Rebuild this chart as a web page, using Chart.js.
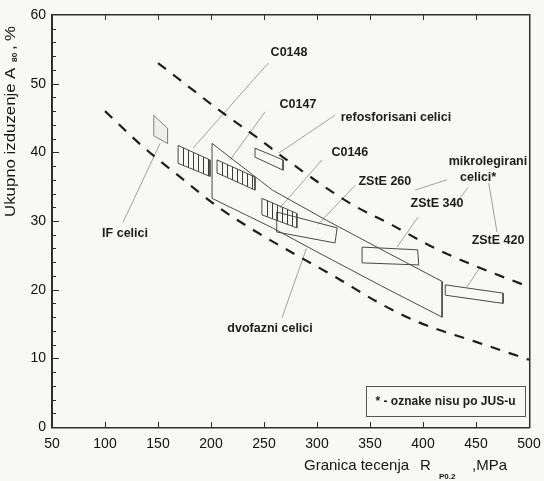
<!DOCTYPE html>
<html><head><meta charset="utf-8">
<script src="https://cdn.jsdelivr.net/npm/chart.js@4"></script>
<style>html,body{margin:0;padding:0;background:#f8f8f6;}#wrap{width:544px;height:481px;position:relative;}</style>
</head><body><div id="wrap"><canvas id="c"></canvas></div>
<script>
// ---- axis ticks ----
const xTickValues = [50,100,150,200,250,300,350,400,450,500];
const yTickValues = [0,10,20,30,40,50,60];

// ---- dashed boundary curves ----
const upperX = [150,171,208,243,275,331,371,409,447,500];
const upperY = [53,50.5,46.1,42.2,38.5,32.6,29.4,26.2,23.6,20.4];
const lowerX = [100,136,171,207,243,281,319,357,395,450,500];
const lowerY = [46,40.8,36.4,32,28.4,25,21.7,18.2,15.3,12.4,9.8];

// ---- dual-phase steels region ----
const dvofazniX = [201,258,309,365,418,418,360,300,258,201];
const dvofazniY = [41.3,34.5,30.1,25.5,21.2,16.0,20.6,25.5,29.0,33.3];

// ---- steel grade boxes (corners) ----
const c0148X = [169,199,199,169];         const c0148Y = [41.0,38.9,36.5,38.4];
const c0147X = [205.7,241.5,241.5,205.7]; const c0147Y = [38.9,36.4,34.5,37.0];
const c0146X = [248,281,281,248];         const c0146Y = [33.3,31.1,29.0,30.9];
const refosX = [241.5,268,268,241.5];     const refosY = [40.6,38.9,37.4,39.3];
const ifX = [146,159,159,146];            const ifY = [45.4,43.5,41.3,42.4];
const z260X = [262,319,317,262];          const z260Y = [31.3,29.0,26.8,28.4];
const z340X = [342.5,395,396,342.5];      const z340Y = [26.2,25.8,23.6,23.9];
const z420X = [421,475.5,475.5,421];      const z420Y = [20.7,19.5,18.0,19.2];

// ---- leader lines [x0,y0,x1,y1] ----
const leaderIF = [117,29.8,152,41.3];
const leaderC0148 = [254,53,183,40.6];
const leaderC0147 = [251,45.9,218,38.9];
const leaderRefos = [317,45.4,264,39.9];
const leaderC0146 = [304.7,38.9,265,31.9];
const leaderZ260 = [336,35.2,301,29.5];
const leaderZ340 = [395.5,30.6,375.5,26.2];
const leaderZ420 = [454,23.3,441.5,20.4];
const leaderMik260 = [422.6,36.0,392.5,34.5];
const leaderMik340 = [442.5,34.9,429.2,32.2];
const leaderMik420 = [462,35.5,469.8,28.4];
const leaderDvo = [267,15.9,290,26];

// ---- text labels ----
const labelTexts = ['C0148','C0147','refosforisani celici','C0146','ZStE 260','mikrolegirani','celici*','ZStE 340','ZStE 420','dvofazni celici','IF celici'];
const labelX = [273.6,282,374.5,331,364,461.3,452,413.2,470.8,255.7,118.9];
const labelY = [54.6,47.0,45.1,40.0,35.8,38.6,36.4,32.6,27.2,14.4,28.2];
const noteText = '* - oznake nisu po JUS-u';

const FONT = '"Liberation Sans", Arial, Helvetica, sans-serif';

function pts(xs, ys, close){
  const p = xs.map((x,i)=>({x, y: ys[i]}));
  if (close) p.push({x: xs[0], y: ys[0]});
  return p;
}
function seg(a){ return [{x:a[0],y:a[1]},{x:a[2],y:a[3]}]; }

const base = {showLine:true, pointRadius:0, fill:false, tension:0};
const boxStyle = {borderColor:'#4a4a4a', borderWidth:1};
const leadStyle = {borderColor:'#8a8a8a', borderWidth:0.8};

const datasets = [
  {...base, data: pts(upperX,upperY), borderColor:'#1e1e1e', borderWidth:2.2, borderDash:[10,9], cubicInterpolationMode:'monotone'},
  {...base, data: pts(lowerX,lowerY), borderColor:'#1e1e1e', borderWidth:2.2, borderDash:[10,9], cubicInterpolationMode:'monotone'},
  {...base, ...boxStyle, data: pts(dvofazniX,dvofazniY,true)},
  {...base, ...boxStyle, data: pts(c0148X,c0148Y,true), hatch:5},
  {...base, ...boxStyle, data: pts(c0147X,c0147Y,true), hatch:5},
  {...base, ...boxStyle, data: pts(c0146X,c0146Y,true), hatch:5},
  {...base, ...boxStyle, data: pts(refosX,refosY,true)},
  {...base, ...boxStyle, borderColor:'#888', data: pts(ifX,ifY,true), shade:'rgba(0,0,0,0.04)'},
  {...base, ...boxStyle, data: pts(z260X,z260Y,true)},
  {...base, ...boxStyle, data: pts(z340X,z340Y,true)},
  {...base, ...boxStyle, data: pts(z420X,z420Y,true)},
  ...[leaderIF,leaderC0148,leaderC0147,leaderRefos,leaderC0146,leaderZ260,leaderZ340,leaderZ420,leaderMik260,leaderMik340,leaderMik420,leaderDvo]
    .map(a=>({...base, ...leadStyle, data: seg(a)}))
];

const hatchPlugin = {
  id:'hatch',
  afterDatasetsDraw(chart){
    const ctx = chart.ctx;
    chart.data.datasets.forEach((ds,i)=>{
      if(!ds.hatch && !ds.shade) return;
      const p = chart.getDatasetMeta(i).data;
      ctx.save();
      ctx.beginPath();
      p.forEach((q,j)=> j ? ctx.lineTo(q.x,q.y) : ctx.moveTo(q.x,q.y));
      ctx.closePath();
      if (ds.shade){ ctx.fillStyle = ds.shade; ctx.fill(); }
      if (ds.hatch){
        ctx.clip();
        const xs = p.map(q=>q.x), ys = p.map(q=>q.y);
        const x0=Math.min(...xs), x1=Math.max(...xs), y0=Math.min(...ys), y1=Math.max(...ys);
        ctx.fillStyle='#3a3a3a';
        for(let x=x0+ds.hatch; x<x1-1; x+=ds.hatch){
          ctx.fillRect(Math.round(x), y0, 1, y1-y0);
        }
      }
      ctx.restore();
    });
  }
};

const framePlugin = {
  id:'frame',
  beforeDraw(chart){
    const ctx=chart.ctx; ctx.save(); ctx.fillStyle='#f8f8f6'; ctx.fillRect(0,0,chart.width,chart.height); ctx.restore();
  },
  afterDraw(chart){
    const ctx=chart.ctx, sx=chart.scales.x, sy=chart.scales.y;
    ctx.save();
    ctx.setLineDash([]);
    const L=Math.round(sx.getPixelForValue(xTickValues[0]));
    const R=Math.round(sx.getPixelForValue(xTickValues[xTickValues.length-1]));
    const B=Math.round(sy.getPixelForValue(yTickValues[0]));
    const T=Math.round(sy.getPixelForValue(yTickValues[yTickValues.length-1]));
    ctx.fillStyle='#2e2e2e';
    ctx.fillRect(L-1, T-1, R-L+2, 1.5);
    ctx.fillRect(L-1, B, R-L+2, 1.5);
    ctx.fillRect(L-1, T-1, 1.5, B-T+2);
    ctx.fillRect(R, T-1, 1.5, B-T+2);
    for(let v=2; v<60; v+=2){
      const y=Math.round(sy.getPixelForValue(v));
      const len = v%10===0 ? 7 : 4;
      ctx.fillRect(L, y, len, 1);
    }
    xTickValues.slice(1,-1).forEach(v=>{
      const x=Math.round(sx.getPixelForValue(v));
      ctx.fillRect(x, B-5, 1, 5);
      ctx.fillRect(x, T, 1, 5);
    });

    // labels
    ctx.fillStyle='#1c1c1c';
    ctx.textAlign='center'; ctx.textBaseline='middle';
    ctx.font = 'bold 12.5px '+FONT;
    labelTexts.forEach((t,i)=>{
      ctx.fillText(t, sx.getPixelForValue(labelX[i]), sy.getPixelForValue(labelY[i]));
    });

    // note box
    const bx0=Math.round(sx.getPixelForValue(346.2)), bx1=Math.round(sx.getPixelForValue(496.2));
    const by0=Math.round(sy.getPixelForValue(6.0)), by1=Math.round(sy.getPixelForValue(1.6));
    ctx.fillStyle='#555';
    ctx.fillRect(bx0, by0, bx1-bx0, 1);
    ctx.fillRect(bx0, by1, bx1-bx0+1, 1);
    ctx.fillRect(bx0, by0, 1, by1-by0);
    ctx.fillRect(bx1, by0, 1, by1-by0);
    ctx.fillStyle='#1c1c1c';
    ctx.font='bold 12px '+FONT;
    ctx.fillText(noteText, (bx0+bx1)/2, (by0+by1)/2+1);

    // x axis title
    ctx.fillStyle='#151515';
    ctx.textAlign='left'; ctx.textBaseline='alphabetic';
    ctx.font='15px '+FONT;
    ctx.fillText('Granica tecenja', 304, 470);
    ctx.fillText('R', 420, 470);
    ctx.font='bold 8px '+FONT;
    ctx.fillText('P0.2', 439, 479);
    ctx.font='15px '+FONT;
    ctx.fillText(',MPa', 472, 470);

    // y axis title (rotated, slightly stretched along its length)
    ctx.translate(15, 0);
    ctx.rotate(-Math.PI/2);
    const sc = 1.2;
    const put = (t, start, dy, font)=>{
      ctx.save(); ctx.font=font; ctx.translate(-start, dy); ctx.scale(sc,1); ctx.fillText(t,0,0); ctx.restore();
    };
    put('Ukupno izduzenje', 217, 0, '14px '+FONT);
    put('A', 79, 0, '14px '+FONT);
    put('80', 62, 2, 'bold 7px '+FONT);
    put(',', 50, 0, '14px '+FONT);
    put('%', 41, 0, '14px '+FONT);
    ctx.restore();
  }
};

new Chart(document.getElementById('c'), {
  type:'scatter',
  data:{datasets},
  options:{
    responsive:true, maintainAspectRatio:false, animation:false,
    layout:{padding:{top:15,right:15,left:0,bottom:0}},
    plugins:{legend:{display:false}, tooltip:{enabled:false}},
    scales:{
      x:{type:'linear', min:50, max:500,
         afterFit(s){ s.height=54; s.paddingLeft=0; s.paddingRight=0; },
         afterBuildTicks(s){ s.ticks = xTickValues.map(v=>({value:v})); },
         grid:{display:false, drawTicks:false}, border:{display:true, color:'#333', width:1},
         ticks:{padding:9, color:'#111', font:{size:14, family:FONT}, maxRotation:0, autoSkip:false}},
      y:{type:'linear', min:0, max:60,
         afterFit(s){ s.width=52; s.paddingTop=0; s.paddingBottom=0; },
         afterBuildTicks(s){ s.ticks = yTickValues.map(v=>({value:v})); },
         grid:{display:false, drawTicks:false}, border:{display:true, color:'#333', width:1},
         ticks:{padding:6, color:'#111', font:{size:14, family:FONT}, autoSkip:false}}
    }
  },
  plugins:[framePlugin, hatchPlugin]
});
</script></body></html>
